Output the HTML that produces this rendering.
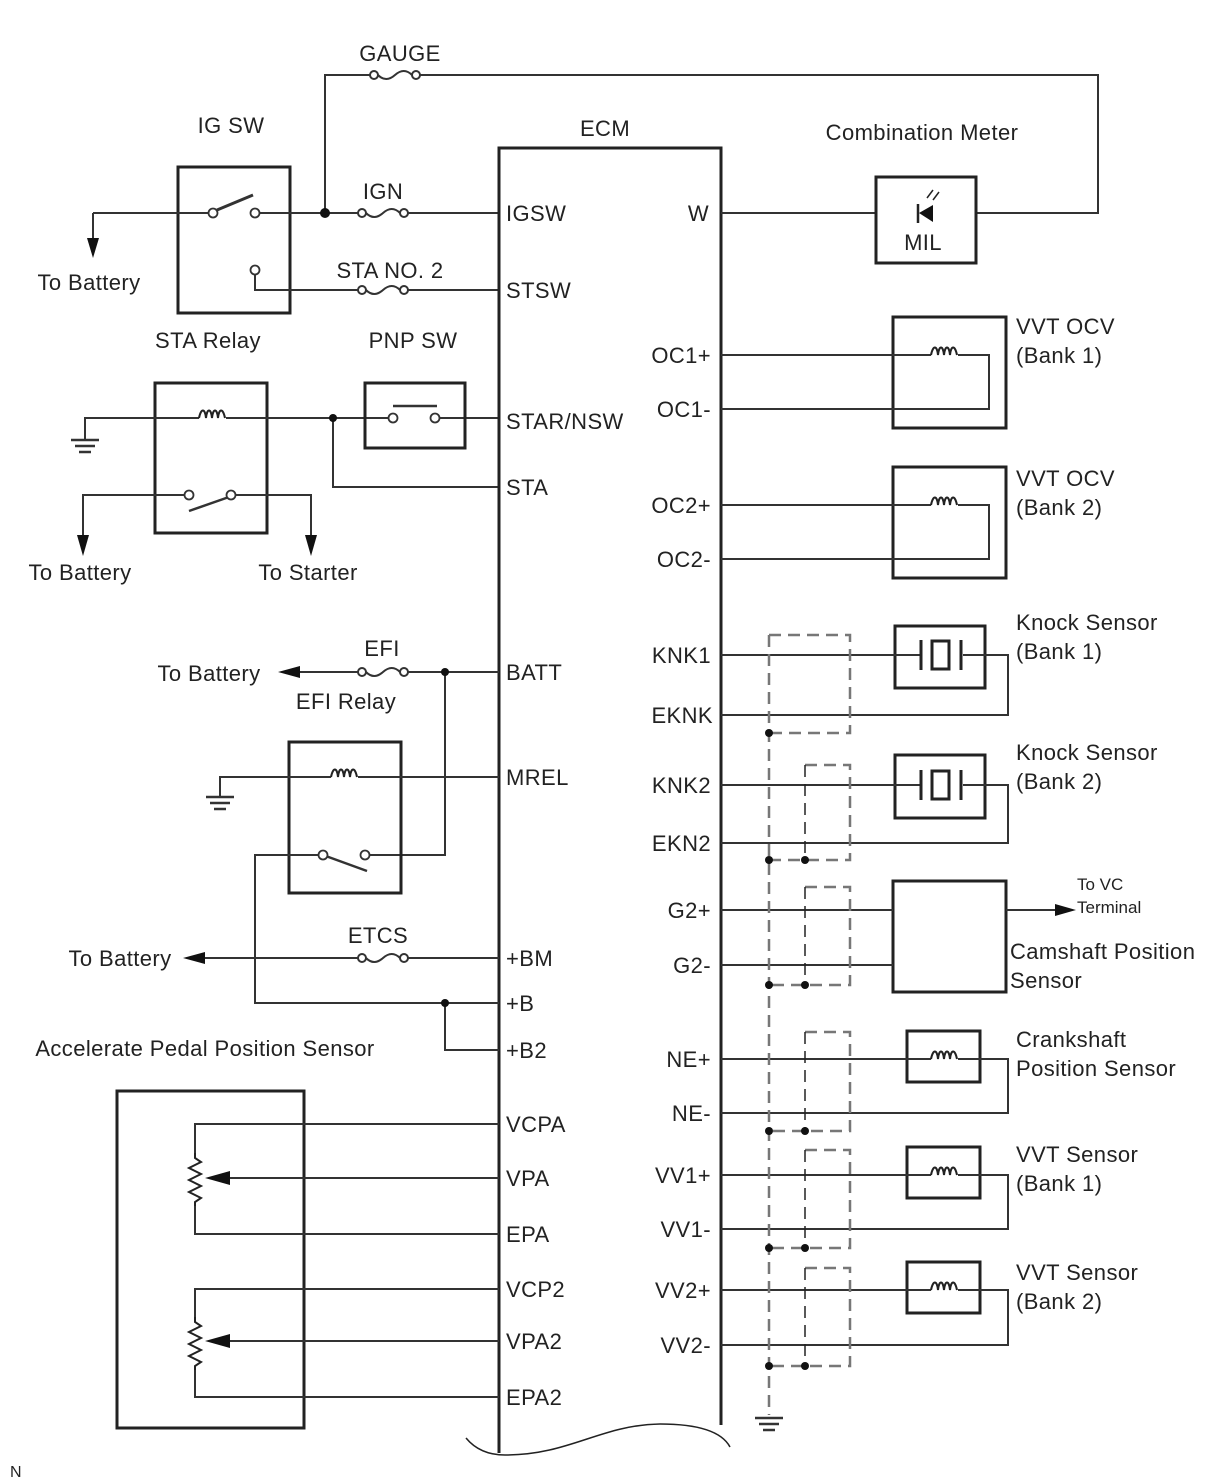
<!DOCTYPE html>
<html><head><meta charset="utf-8"><style>
html,body{margin:0;padding:0;background:#fff;}
svg{display:block;}
text{font-family:"Liberation Sans",sans-serif;font-size:22px;letter-spacing:0.4px;fill:#222;}
</style></head><body>
<svg width="1212" height="1482" viewBox="0 0 1212 1482" xmlns="http://www.w3.org/2000/svg">
<defs>
<g id="fuse"><circle cx="4" cy="0" r="4" fill="#fff" stroke="#333" stroke-width="2"/><circle cx="46" cy="0" r="4" fill="#fff" stroke="#333" stroke-width="2"/><path d="M8 0 Q16 8 25 0 Q34 -8 42 0" fill="none" stroke="#333" stroke-width="2"/></g>
<g id="coil"><path d="M-14 0 C-12 -10 -8 -10 -7 0 C-6 -10 -2 -10 -1 0 C0 -10 4 -10 5 0 C6 -10 10 -10 12 0" fill="none" stroke="#222" stroke-width="2"/></g>
<g id="gnd" stroke="#333" stroke-width="2.5"><line x1="-14" y1="0" x2="14" y2="0"/><line x1="-10" y1="6" x2="10" y2="6"/><line x1="-6" y1="12" x2="6" y2="12"/></g>
<g id="knock" stroke="#222" stroke-width="3" fill="#fff"><line x1="-19" y1="-15" x2="-19" y2="15"/><line x1="21" y1="-15" x2="21" y2="15"/><rect x="-8" y="-14" width="17" height="28"/></g>
<g id="res" fill="none" stroke="#222" stroke-width="2"><path d="M0 -25 L0 -20 L6 -16 L-6 -10 L6 -4 L-6 2 L6 8 L-6 14 L6 20 L0 24 L0 28"/></g>
</defs>
<g fill="none" stroke="#333" stroke-width="2">
<polyline points="325,213 325,75 370,75"/><polyline points="420,75 1098,75 1098,213 976,213"/>
<rect x="178" y="167" width="112" height="146" stroke="#222" stroke-width="3"/>
<polyline points="93,213 209,213"/><line x1="93" y1="213" x2="93" y2="240"/>
<line x1="217" y1="210" x2="253" y2="195" stroke-width="3"/>
<line x1="259" y1="213" x2="358" y2="213"/><line x1="408" y1="213" x2="499" y2="213"/>
<polyline points="255,274 255,290 358,290"/><line x1="408" y1="290" x2="499" y2="290"/>
<rect x="155" y="383" width="112" height="150" stroke="#222" stroke-width="3"/>
<polyline points="85,440 85,418 199,418"/><line x1="226" y1="418" x2="389" y2="418"/>
<line x1="439" y1="418" x2="499" y2="418"/>
<rect x="365" y="383" width="100" height="65" stroke="#222" stroke-width="3"/>
<line x1="393" y1="406" x2="437" y2="406" stroke-width="2.5"/>
<polyline points="333,418 333,487 499,487"/>
<polyline points="83,538 83,495 185,495"/><line x1="189" y1="511" x2="229" y2="497" stroke-width="2.5"/>
<polyline points="235,495 311,495 311,538"/>
<path d="M499 1453 L499 148 L721 148 L721 1425" stroke="#222" stroke-width="3"/>
<path d="M466 1438 Q480 1455 505 1455 C570 1455 600 1425 660 1424 C700 1424 722 1432 730 1447" stroke="#222" stroke-width="1.5"/>
<line x1="298" y1="672" x2="358" y2="672"/><line x1="408" y1="672" x2="499" y2="672"/>
<polyline points="445,672 445,855 369,855"/>
<rect x="289" y="742" width="112" height="151" stroke="#222" stroke-width="3"/>
<polyline points="220,797 220,777 331,777"/><line x1="358" y1="777" x2="499" y2="777"/>
<line x1="323" y1="855" x2="367" y2="871" stroke-width="2.5"/>
<polyline points="319,855 255,855 255,1003 499,1003"/>
<polyline points="445,1003 445,1050 499,1050"/>
<line x1="203" y1="958" x2="358" y2="958"/><line x1="408" y1="958" x2="499" y2="958"/>
<rect x="117" y="1091" width="187" height="337" stroke="#222" stroke-width="3"/>
<polyline points="499,1124 195,1124 195,1153"/><polyline points="195,1206 195,1234 499,1234"/>
<line x1="215" y1="1178" x2="499" y2="1178"/>
<polyline points="499,1289 195,1289 195,1317"/><polyline points="195,1370 195,1397 499,1397"/>
<line x1="215" y1="1341" x2="499" y2="1341"/>
<line x1="721" y1="213" x2="876" y2="213"/>
<rect x="876" y="177" width="100" height="86" stroke="#222" stroke-width="3"/>
<rect x="893" y="317" width="113" height="111" stroke="#222" stroke-width="3"/>
<polyline points="721,355 931,355"/><polyline points="958,355 989,355 989,409 721,409"/>
<rect x="893" y="467" width="113" height="111" stroke="#222" stroke-width="3"/>
<polyline points="721,505 931,505"/><polyline points="958,505 989,505 989,559 721,559"/>
<rect x="895" y="626" width="90" height="62" stroke="#222" stroke-width="3"/>
<polyline points="721,655 921,655"/><polyline points="963,655 1008,655 1008,715 721,715"/>
<rect x="895" y="755" width="90" height="63" stroke="#222" stroke-width="3"/>
<polyline points="721,785 921,785"/><polyline points="963,785 1008,785 1008,843 721,843"/>
<rect x="893" y="881" width="113" height="111" stroke="#222" stroke-width="3"/>
<line x1="721" y1="910" x2="893" y2="910"/><line x1="721" y1="965" x2="893" y2="965"/>
<line x1="1006" y1="910" x2="1058" y2="910"/>
<rect x="907" y="1031" width="73" height="51" stroke="#222" stroke-width="3"/>
<polyline points="721,1059 931,1059"/><polyline points="958,1059 1008,1059 1008,1113 721,1113"/>
<rect x="907" y="1147" width="73" height="51" stroke="#222" stroke-width="3"/>
<polyline points="721,1175 931,1175"/><polyline points="958,1175 1008,1175 1008,1229 721,1229"/>
<rect x="907" y="1262" width="73" height="51" stroke="#222" stroke-width="3"/>
<polyline points="721,1290 931,1290"/><polyline points="958,1290 1008,1290 1008,1345 721,1345"/>
</g>
<g fill="none" stroke="#777" stroke-width="2.5" stroke-dasharray="12 7">
<line x1="769" y1="635" x2="769" y2="1415"/>
<polyline points="769,635 850,635 850,733 769,733"/>
<polyline points="805,765 850,765 850,860 769,860"/>
<polyline points="805,887 850,887 850,985 769,985"/>
<polyline points="805,1032 850,1032 850,1131 769,1131"/>
<polyline points="805,1150 850,1150 850,1248 769,1248"/>
<polyline points="805,1268 850,1268 850,1366 769,1366"/>
</g>
<g stroke="#222" stroke-width="1.5" fill="none" stroke-dasharray="12 7">
<line x1="805" y1="765" x2="805" y2="860"/>
<line x1="805" y1="887" x2="805" y2="985"/>
<line x1="805" y1="1032" x2="805" y2="1131"/>
<line x1="805" y1="1150" x2="805" y2="1248"/>
<line x1="805" y1="1268" x2="805" y2="1366"/>
</g>
<use href="#gnd" x="769" y="1418"/>
<g fill="#111">
<circle cx="769" cy="733" r="4"/>
<circle cx="769" cy="860" r="4"/><circle cx="805" cy="860" r="4"/>
<circle cx="769" cy="985" r="4"/><circle cx="805" cy="985" r="4"/>
<circle cx="769" cy="1131" r="4"/><circle cx="805" cy="1131" r="4"/>
<circle cx="769" cy="1248" r="4"/><circle cx="805" cy="1248" r="4"/>
<circle cx="769" cy="1366" r="4"/><circle cx="805" cy="1366" r="4"/>
<circle cx="325" cy="213" r="5"/><circle cx="333" cy="418" r="4"/>
<circle cx="445" cy="672" r="4"/><circle cx="445" cy="1003" r="4"/>
<polygon points="87,238 99,238 93,258"/>
<polygon points="77,535 89,535 83,556"/>
<polygon points="305,535 317,535 311,556"/>
<polygon points="300,666 300,678 278,672"/>
<polygon points="205,952 205,964 183,958"/>
<polygon points="1055,904 1055,916 1076,910"/>
<polygon points="205,1178 230,1171 230,1185"/>
<polygon points="205,1341 230,1334 230,1348"/>
<polygon points="933,205 933,222 919,213"/>
</g>
<line x1="918" y1="204" x2="918" y2="223" stroke="#222" stroke-width="2.5"/>
<path d="M927 198 L933 190 M933 200 L939 192" stroke="#222" stroke-width="1.5"/>
<g fill="#fff" stroke="#333" stroke-width="1.8">
<circle cx="213" cy="213" r="4.5"/><circle cx="255" cy="213" r="4.5"/><circle cx="255" cy="270" r="4.5"/>
<circle cx="393" cy="418" r="4.5"/><circle cx="435" cy="418" r="4.5"/>
<circle cx="189" cy="495" r="4.5"/><circle cx="231" cy="495" r="4.5"/>
<circle cx="323" cy="855" r="4.5"/><circle cx="365" cy="855" r="4.5"/>
</g>
<use href="#fuse" x="370" y="75"/><use href="#fuse" x="358" y="213"/><use href="#fuse" x="358" y="290"/>
<use href="#fuse" x="358" y="672"/><use href="#fuse" x="358" y="958"/>
<use href="#coil" x="213" y="418"/><use href="#coil" x="345" y="777"/>
<use href="#coil" x="945" y="355"/><use href="#coil" x="945" y="505"/>
<use href="#coil" x="945" y="1059"/><use href="#coil" x="945" y="1175"/><use href="#coil" x="945" y="1290"/>
<use href="#gnd" x="85" y="440"/><use href="#gnd" x="220" y="797"/>
<use href="#knock" x="940" y="655"/><use href="#knock" x="940" y="785"/>
<use href="#res" x="195" y="1178"/><use href="#res" x="195" y="1342"/>
<g text-anchor="middle">
<text x="400" y="61">GAUGE</text><text x="231" y="133">IG SW</text><text x="383" y="199">IGN</text>
<text x="390" y="278">STA NO. 2</text><text x="605" y="136">ECM</text><text x="922" y="140">Combination Meter</text>
<text x="923" y="250">MIL</text><text x="89" y="290">To Battery</text><text x="208" y="348">STA Relay</text>
<text x="413" y="348">PNP SW</text><text x="80" y="580">To Battery</text><text x="308" y="580">To Starter</text>
<text x="382" y="656">EFI</text><text x="209" y="681">To Battery</text><text x="346" y="709">EFI Relay</text>
<text x="378" y="943">ETCS</text><text x="120" y="966">To Battery</text>
<text x="205" y="1056">Accelerate Pedal Position Sensor</text>
</g>
<g>
<text x="506" y="221">IGSW</text><text x="506" y="298">STSW</text><text x="506" y="429">STAR/NSW</text>
<text x="506" y="495">STA</text><text x="506" y="680">BATT</text><text x="506" y="785">MREL</text>
<text x="506" y="966">+BM</text><text x="506" y="1011">+B</text><text x="506" y="1058">+B2</text>
<text x="506" y="1132">VCPA</text><text x="506" y="1186">VPA</text><text x="506" y="1242">EPA</text>
<text x="506" y="1297">VCP2</text><text x="506" y="1349">VPA2</text><text x="506" y="1405">EPA2</text>
</g>
<g text-anchor="end">
<text x="709" y="221">W</text><text x="711" y="363">OC1+</text><text x="711" y="417">OC1-</text>
<text x="711" y="513">OC2+</text><text x="711" y="567">OC2-</text><text x="711" y="663">KNK1</text>
<text x="713" y="723">EKNK</text><text x="711" y="793">KNK2</text><text x="711" y="851">EKN2</text>
<text x="711" y="918">G2+</text><text x="711" y="973">G2-</text><text x="711" y="1067">NE+</text>
<text x="711" y="1121">NE-</text><text x="711" y="1183">VV1+</text><text x="711" y="1237">VV1-</text>
<text x="711" y="1298">VV2+</text><text x="711" y="1353">VV2-</text>
</g>
<g>
<text x="1016" y="334">VVT OCV</text><text x="1016" y="363">(Bank 1)</text>
<text x="1016" y="486">VVT OCV</text><text x="1016" y="515">(Bank 2)</text>
<text x="1016" y="630">Knock Sensor</text><text x="1016" y="659">(Bank 1)</text>
<text x="1016" y="760">Knock Sensor</text><text x="1016" y="789">(Bank 2)</text>
<text x="1077" y="890" style="font-size:17px;letter-spacing:0">To VC</text><text x="1077" y="913" style="font-size:17px;letter-spacing:0">Terminal</text>
<text x="1010" y="959">Camshaft Position</text><text x="1010" y="988">Sensor</text>
<text x="1016" y="1047">Crankshaft</text><text x="1016" y="1076">Position Sensor</text>
<text x="1016" y="1162">VVT Sensor</text><text x="1016" y="1191">(Bank 1)</text>
<text x="1016" y="1280">VVT Sensor</text><text x="1016" y="1309">(Bank 2)</text>
<text x="10" y="1477" style="font-size:16px;letter-spacing:0">N</text>
</g>
</svg>
</body></html>
